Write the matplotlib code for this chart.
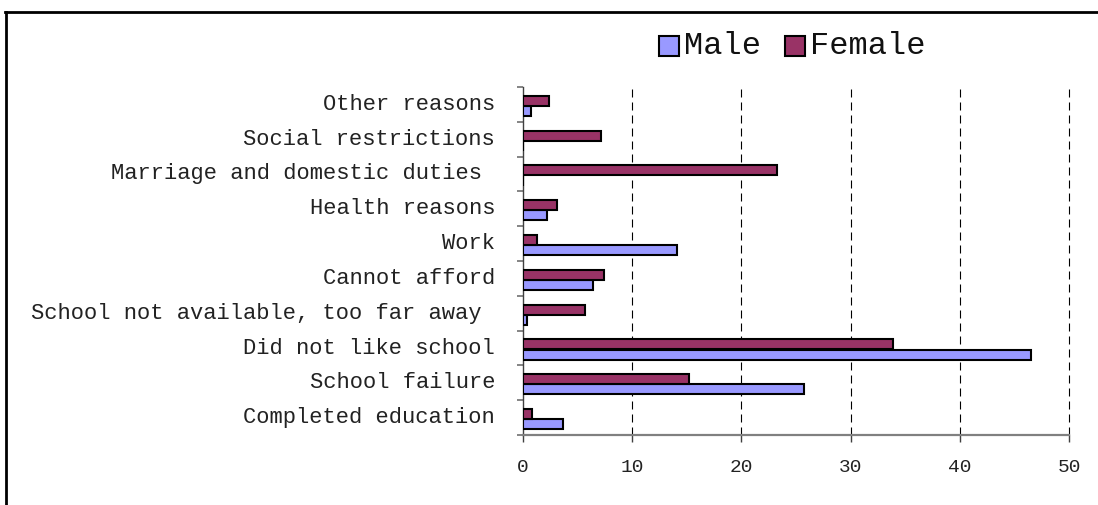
import matplotlib
matplotlib.use("Agg")
import matplotlib.pyplot as plt
from matplotlib.lines import Line2D
from matplotlib.patches import Rectangle
from matplotlib.ticker import FixedLocator
from matplotlib.transforms import ScaledTranslation

plt.rcParams['font.family'] = ['Liberation Mono', 'DejaVu Sans Mono']

categories = [
    "Completed education",
    "School failure",
    "Did not like school",
    "School not available, too far away ",
    "Cannot afford",
    "Work",
    "Health reasons",
    "Marriage and domestic duties ",
    "Social restrictions",
    "Other reasons",
]
male = [3.7, 25.7, 46.5, 0.4, 6.4, 14.1, 2.2, 0.0, 0.0, 0.7]
female = [0.8, 15.2, 33.9, 5.7, 7.4, 1.3, 3.1, 23.3, 7.1, 2.4]
x_ticks = [0, 10, 20, 30, 40, 50]

male_color = "#9999FF"
female_color = "#993366"

W, H = 1098, 505
fig = plt.figure(figsize=(W / 100, H / 100), dpi=100)
ax = fig.add_axes([523 / W, 1 - 435 / H, 546 / W, 348 / H])

pos = list(range(len(categories)))
bar_h = 0.29
ax.barh([p - 0.19 for p in pos], male, height=bar_h, color=male_color,
        edgecolor="black", linewidth=1.5, zorder=3)
ax.barh([p + 0.105 for p in pos], female, height=bar_h, color=female_color,
        edgecolor="black", linewidth=1.5, zorder=3)

ax.set_xlim(0, 50)
ax.set_ylim(-0.5, len(categories) - 0.5)

# vertical dashed gridlines at 10..50
for v in x_ticks[1:]:
    ax.axvline(v, color="black", linewidth=0.8, linestyle=(0, (7.2, 4.5)),
               zorder=1, clip_on=False)

for s in ["top", "right"]:
    ax.spines[s].set_visible(False)
ax.spines["left"].set_color("#404040")
ax.spines["left"].set_linewidth(1.0)
ax.spines["bottom"].set_color("#808080")
ax.spines["bottom"].set_linewidth(1.6)

ax.set_xticks(x_ticks)
ax.set_xticklabels([str(v) for v in x_ticks], fontsize=14, color="#222222")
ax.tick_params(axis="x", length=5, width=1, color="#404040", pad=12)

ax.set_yticks(pos)
ax.set_yticklabels(categories, fontsize=15.9, color="#222222")
ax.tick_params(axis="y", which="major", length=0, pad=20)
ax.yaxis.set_minor_locator(FixedLocator([p - 0.5 for p in range(len(categories) + 1)]))
ax.tick_params(axis="y", which="minor", length=4.5, width=1.2, color="#707070")

# nudge category labels slightly upward
lift = ScaledTranslation(0, 2.5 / 100, fig.dpi_scale_trans)
for lbl in ax.get_yticklabels():
    lbl.set_transform(lbl.get_transform() + lift)

# legend drawn in figure pixels
def px_rect(x0, y0, w, h, color):
    r = Rectangle((x0 / W, 1 - (y0 + h) / H), w / W, h / H, transform=fig.transFigure,
                  facecolor=color, edgecolor="black", linewidth=1.5)
    fig.add_artist(r)

px_rect(659, 36, 20, 20, male_color)
fig.text(684 / W, 1 - 46 / H, "Male", fontsize=23, va="center", ha="left", color="#111111")
px_rect(785, 36, 20, 20, female_color)
fig.text(810 / W, 1 - 46 / H, "Female", fontsize=23, va="center", ha="left", color="#111111")

# outer frame (partially cropped)
fig.add_artist(Line2D([5 / W, 1], [1 - 12 / H, 1 - 12 / H], transform=fig.transFigure,
                      color="black", linewidth=2))
fig.add_artist(Line2D([6 / W, 6 / W], [0, 1 - 12 / H], transform=fig.transFigure,
                      color="black", linewidth=2))

fig.savefig("out.png", dpi=100)
